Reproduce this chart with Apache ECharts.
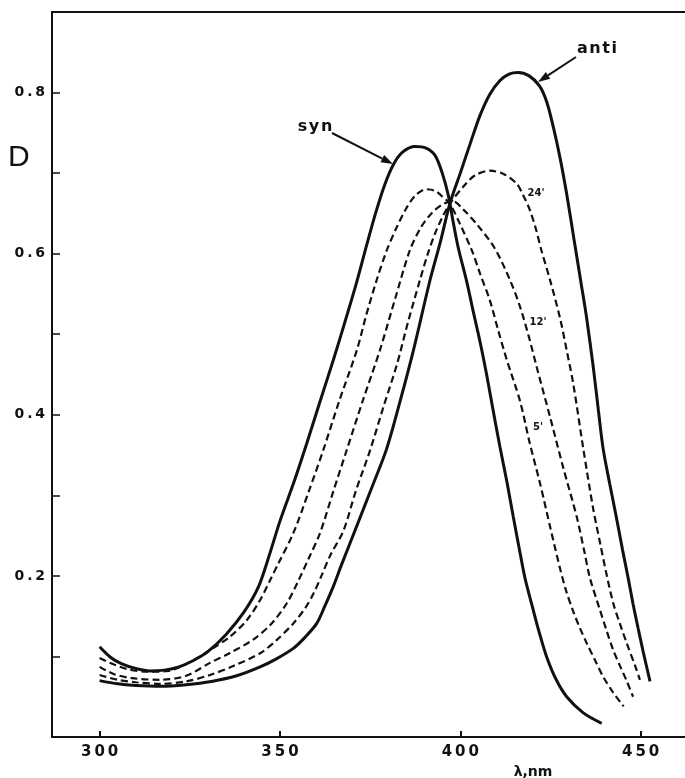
<!DOCTYPE html>
<html>
<head>
<meta charset="utf-8">
<script src="https://cdn.jsdelivr.net/npm/echarts@6/dist/echarts.min.js"></script>
<style>
  html, body { margin: 0; padding: 0; background: #fff; }
  #chart { width: 685px; height: 778px; }
</style>
</head>
<body>
<div id="chart"></div>
<script>
// syn isomer (solid)
var synNm = [300, 303, 306, 310, 314, 318, 322, 326, 330, 335, 340, 344, 347, 350, 354, 357.4, 361, 364.8, 368, 371.3, 374, 376.5, 379, 381.5, 384, 387.5, 390.5, 393, 395, 396.7, 398, 399.4, 401.8, 403.6, 405.5, 407.3, 409, 411, 413, 414.7, 416.3, 417.9, 420.2, 422, 423.9, 426.5, 429.5, 434.1, 439.2];
var synD  = [0.112, 0.099, 0.091, 0.085, 0.082, 0.083, 0.087, 0.095, 0.106, 0.127, 0.155, 0.186, 0.225, 0.268, 0.318, 0.364, 0.415, 0.468, 0.515, 0.565, 0.610, 0.650, 0.685, 0.711, 0.726, 0.733, 0.731, 0.722, 0.700, 0.672, 0.640, 0.608, 0.565, 0.528, 0.490, 0.450, 0.408, 0.360, 0.315, 0.273, 0.235, 0.198, 0.158, 0.128, 0.100, 0.072, 0.050, 0.030, 0.017];

// 5 min (dashed)
var t5Nm = [300, 304, 308, 313, 319, 325, 330.6, 336, 340.8, 344.5, 347.3, 349.5, 353.7, 358, 362, 366.5, 371.3, 374, 376.8, 379.6, 382.4, 385, 387.5, 390.5, 393, 395, 397.1, 400, 403.2, 405.5, 408.2, 410.5, 412.9, 416.5, 419.3, 422.1, 424.9, 427.5, 429.3, 431.3, 433, 435, 437.5, 439.6, 442.4, 445.3];
var t5D  = [0.098, 0.090, 0.084, 0.081, 0.082, 0.093, 0.108, 0.124, 0.145, 0.170, 0.195, 0.215, 0.253, 0.305, 0.356, 0.418, 0.480, 0.525, 0.567, 0.604, 0.633, 0.656, 0.672, 0.680, 0.678, 0.671, 0.662, 0.636, 0.604, 0.575, 0.542, 0.505, 0.468, 0.418, 0.364, 0.315, 0.261, 0.212, 0.182, 0.156, 0.137, 0.117, 0.094, 0.075, 0.055, 0.038];

// 12 min (dashed)
var t12Nm = [300, 304, 309, 316.8, 324, 330.6, 336, 342.6, 347.5, 351.9, 355, 358, 361.1, 364.8, 368.5, 373, 377.7, 382, 386, 389, 392, 395, 398, 401, 404.5, 409.5, 413.8, 416.5, 419, 421.2, 424.9, 428.5, 432.3, 434.5, 435.9, 438.7, 440.5, 442.4, 444.3, 446.1, 447.9];
var t12D  = [0.087, 0.078, 0.073, 0.071, 0.076, 0.092, 0.104, 0.121, 0.140, 0.166, 0.193, 0.222, 0.253, 0.305, 0.356, 0.418, 0.480, 0.545, 0.604, 0.632, 0.650, 0.661, 0.665, 0.654, 0.637, 0.607, 0.567, 0.535, 0.497, 0.459, 0.397, 0.335, 0.273, 0.228, 0.198, 0.158, 0.133, 0.108, 0.088, 0.070, 0.050];

// 24 min (dashed)
var t24Nm = [300, 305, 310, 316.8, 324, 330.6, 337, 344.5, 349, 353.7, 357, 359.3, 361.5, 364, 367.6, 371, 375, 378.7, 382.4, 385.5, 388.8, 391, 393, 395, 397.1, 400.8, 404, 408.2, 412, 415.6, 417.5, 419.3, 421, 422.5, 424.9, 427.6, 429.5, 431.3, 434.1, 436.9, 438.8, 440.4, 442.4, 444.3, 446.1, 448.9, 449.8];
var t24D  = [0.077, 0.071, 0.068, 0.066, 0.069, 0.077, 0.088, 0.104, 0.120, 0.141, 0.160, 0.178, 0.200, 0.226, 0.256, 0.305, 0.356, 0.410, 0.462, 0.515, 0.567, 0.600, 0.625, 0.645, 0.662, 0.683, 0.697, 0.703, 0.699, 0.687, 0.672, 0.654, 0.630, 0.604, 0.567, 0.521, 0.480, 0.439, 0.358, 0.282, 0.240, 0.205, 0.166, 0.140, 0.117, 0.083, 0.071];

// anti isomer (solid)
var antiNm = [300, 305, 310, 317, 324, 331, 338, 344.5, 349, 353.7, 357, 360.2, 362.5, 364.8, 367, 371.3, 375.5, 379.6, 383.5, 387, 391.6, 394.5, 397.1, 400, 402.7, 405.5, 408.2, 411, 413.5, 416, 419, 422, 424, 425.8, 427.7, 429.5, 431.8, 433.5, 435, 436.9, 438.3, 439.6, 441.4, 443.3, 445, 446.6, 447.9, 449.3, 450.7, 452.6];
var antiD  = [0.070, 0.066, 0.064, 0.063, 0.065, 0.069, 0.076, 0.087, 0.097, 0.110, 0.124, 0.141, 0.163, 0.187, 0.213, 0.262, 0.310, 0.358, 0.420, 0.480, 0.567, 0.615, 0.662, 0.700, 0.736, 0.772, 0.798, 0.815, 0.823, 0.825, 0.821, 0.808, 0.788, 0.757, 0.718, 0.674, 0.610, 0.563, 0.521, 0.458, 0.405, 0.358, 0.315, 0.272, 0.232, 0.196, 0.165, 0.135, 0.106, 0.069];

var xTicks = [300, 350, 400, 450];
var yTicks = [0.1, 0.2, 0.3, 0.4, 0.5, 0.6, 0.7, 0.8];
var yLabels = [0.2, 0.4, 0.6, 0.8];

function pairs(xs, ys) {
  return xs.map(function (x, i) { return [x, ys[i]]; });
}
function spaced(s, sep) {
  return String(s).split('').join(sep || '\u2009');
}

var ink = '#111';

function curve(name, xs, ys, dashed) {
  return {
    name: name,
    type: 'line',
    xAxisIndex: 0,
    data: pairs(xs, ys),
    showSymbol: false,
    smooth: 0.3,
    lineStyle: dashed
      ? { color: ink, width: 2.2, type: [7, 4] }
      : { color: ink, width: 3 }
  };
}

function arrow(x1, y1, x2, y2) {
  var dx = x2 - x1, dy = y2 - y1;
  var len = Math.sqrt(dx * dx + dy * dy);
  var ux = dx / len, uy = dy / len;
  var hl = 12, hw = 4;
  var bx = x2 - ux * hl, by = y2 - uy * hl;
  return [
    { type: 'line', shape: { x1: x1, y1: y1, x2: bx, y2: by }, style: { stroke: ink, lineWidth: 2 } },
    { type: 'polygon', shape: { points: [[x2, y2], [bx - uy * hw, by + ux * hw], [bx + uy * hw, by - ux * hw]] }, style: { fill: ink } }
  ];
}

var chart = echarts.init(document.getElementById('chart'));

var option = {
  animation: false,
  backgroundColor: '#fff',
  grid: { left: 52, right: 0, top: 12, bottom: 41 },
  xAxis: [
    {
      type: 'value',
      min: 286.8,
      max: 462.3,
      axisLine: { show: true, lineStyle: { color: ink, width: 2 } },
      axisTick: { show: true, inside: true, length: 6, customValues: xTicks, lineStyle: { color: ink, width: 2 } },
      axisLabel: {
        customValues: xTicks,
        fontFamily: 'DejaVu Sans', fontWeight: 'bold', fontSize: 15, color: ink, margin: 8,
        formatter: function (v) { return spaced(v); }
      },
      splitLine: { show: false }
    },
    {
      type: 'value',
      position: 'top',
      min: 286.8,
      max: 462.3,
      axisLine: { show: true, lineStyle: { color: ink, width: 2 } },
      axisTick: { show: false },
      axisLabel: { show: false },
      splitLine: { show: false }
    }
  ],
  yAxis: {
    type: 'value',
    min: 0,
    max: 0.9,
    interval: 0.1,
    axisLine: { show: true, lineStyle: { color: ink, width: 2 } },
    axisTick: { show: true, inside: true, length: 8, customValues: yTicks, lineStyle: { color: ink, width: 1.5 } },
    axisLabel: {
      customValues: yLabels,
      fontFamily: 'DejaVu Sans', fontWeight: 'bold', fontSize: 14, color: ink, margin: 7,
      formatter: function (v) { return spaced(v.toFixed(1)); }
    },
    splitLine: { show: false }
  },
  series: [
    curve('syn', synNm, synD, false),
    curve("5'", t5Nm, t5D, true),
    curve("12'", t12Nm, t12D, true),
    curve("24'", t24Nm, t24D, true),
    curve('anti', antiNm, antiD, false)
  ],
  graphic: [
    { type: 'text', left: 8, top: 143, style: { text: 'D', fontFamily: 'Liberation Sans', fontSize: 30, fill: ink } },
    { type: 'text', x: 533, y: 772, style: { text: 'λ,nm', fontFamily: 'DejaVu Sans', fontWeight: 'bold', fontSize: 14, fill: ink, align: 'center', verticalAlign: 'middle' } },
    { type: 'text', x: 315, y: 127, style: { text: spaced('syn', '\u200a'), fontFamily: 'DejaVu Sans', fontWeight: 'bold', fontSize: 16, fill: ink, align: 'center', verticalAlign: 'middle' } },
    { type: 'text', x: 597, y: 49, style: { text: spaced('anti', '\u200a'), fontFamily: 'DejaVu Sans', fontWeight: 'bold', fontSize: 16, fill: ink, align: 'center', verticalAlign: 'middle' } },
    { type: 'text', x: 536, y: 193, style: { text: "24'", fontFamily: 'DejaVu Sans', fontWeight: 'bold', fontSize: 10, fill: ink, align: 'center', verticalAlign: 'middle' } },
    { type: 'text', x: 538, y: 322, style: { text: "12'", fontFamily: 'DejaVu Sans', fontWeight: 'bold', fontSize: 10, fill: ink, align: 'center', verticalAlign: 'middle' } },
    { type: 'text', x: 538, y: 427, style: { text: "5'", fontFamily: 'DejaVu Sans', fontWeight: 'bold', fontSize: 10, fill: ink, align: 'center', verticalAlign: 'middle' } }
  ].concat(arrow(332, 133, 393, 164), arrow(576, 57, 538, 82))
};

chart.setOption(option);
</script>
</body>
</html>
